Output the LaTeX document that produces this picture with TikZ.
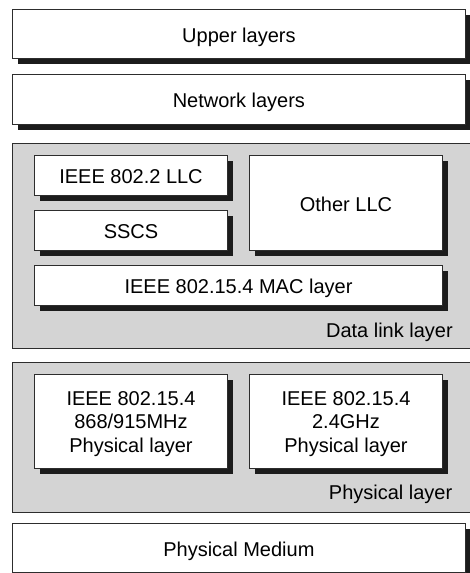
\documentclass[tikz,border=0pt]{standalone}
\usepackage{fontspec}
\setmainfont{Liberation Sans}
\usetikzlibrary{shadows}
\definecolor{panelgray}{RGB}{212,212,212}
\definecolor{edgecol}{RGB}{45,45,45}
\definecolor{shadecol}{RGB}{28,28,28}
\begin{document}
\begin{tikzpicture}[x=1pt,y=-1pt,
  box/.style={draw=edgecol, line width=0.9pt, fill=white, inner sep=0pt, outer sep=0pt,
    drop shadow={shadow xshift=5.5pt, shadow yshift=-5.5pt, fill=shadecol, opacity=1}},
  panel/.style={draw=edgecol, line width=0.9pt, fill=panelgray, inner sep=0pt, anchor=north west},
  txt/.style={font=\fontsize{20}{23.5}\selectfont, inner sep=0pt, align=center},
  plabel/.style={font=\fontsize{20}{23.5}\selectfont, inner sep=0pt, anchor=base east}]
\useasboundingbox (0,0) rectangle (470,573);
\clip (0,0) rectangle (470,573);
% top boxes
\node[box, minimum width=453.2pt, minimum height=49.4pt] (upper) at (238.9,34) {};
\node[txt, anchor=base] (uppert) at ([yshift=-8.6pt]upper.center) {Upper layers};
\node[box, minimum width=453.2pt, minimum height=50pt] (net) at (238.9,99) {};
\node[txt, anchor=base] (nett) at ([yshift=-8.6pt]net.center) {Network layers};
% data link panel
\node[panel, minimum width=480pt, minimum height=204.7pt] (dll) at (12.3,143.3) {};
\node[box, minimum width=193.4pt, minimum height=39.3pt] (llc) at (131,175.35) {};
\node[txt, anchor=base] (llct) at ([yshift=-8.6pt]llc.center) {IEEE 802.2 LLC};
\node[box, minimum width=193.4pt, minimum height=40pt] (sscs) at (131,230) {};
\node[txt, anchor=base] (sscst) at ([yshift=-8.6pt]sscs.center) {SSCS};
\node[box, minimum width=193.4pt, minimum height=94.3pt] (other) at (346,202.85) {};
\node[txt, anchor=base] (othert) at ([yshift=-8.6pt]other.center) {Other LLC};
\node[box, minimum width=408.4pt, minimum height=39.3pt] (mac) at (238.5,285.35) {};
\node[txt, anchor=base] (mact) at ([yshift=-8.6pt]mac.center) {IEEE 802.15.4 MAC layer};
\node[plabel] (dlll) at (453,337) {Data link layer};
% physical panel
\node[panel, minimum width=480pt, minimum height=150pt] (phy) at (12.3,361.7) {};
\node[box, minimum width=193.4pt, minimum height=93.7pt] (phya) at (131,421.15) {};
\node[txt, anchor=center] (phyat) at ([yshift=-2.9pt]phya.center) {IEEE 802.15.4\\868/915MHz\\Physical layer};
\node[box, minimum width=193.4pt, minimum height=93.7pt] (phyb) at (346,421.15) {};
\node[txt, anchor=center] (phybt) at ([yshift=-2.9pt]phyb.center) {IEEE 802.15.4\\2.4GHz\\Physical layer};
\node[plabel] (phyl) at (452.5,499.5) {Physical layer};
% medium
\node[box, minimum width=453.2pt, minimum height=49pt] (med) at (238.9,547.5) {};
\node[txt, anchor=base] (medt) at ([yshift=-8.6pt]med.center) {Physical Medium};
\end{tikzpicture}
\end{document}
